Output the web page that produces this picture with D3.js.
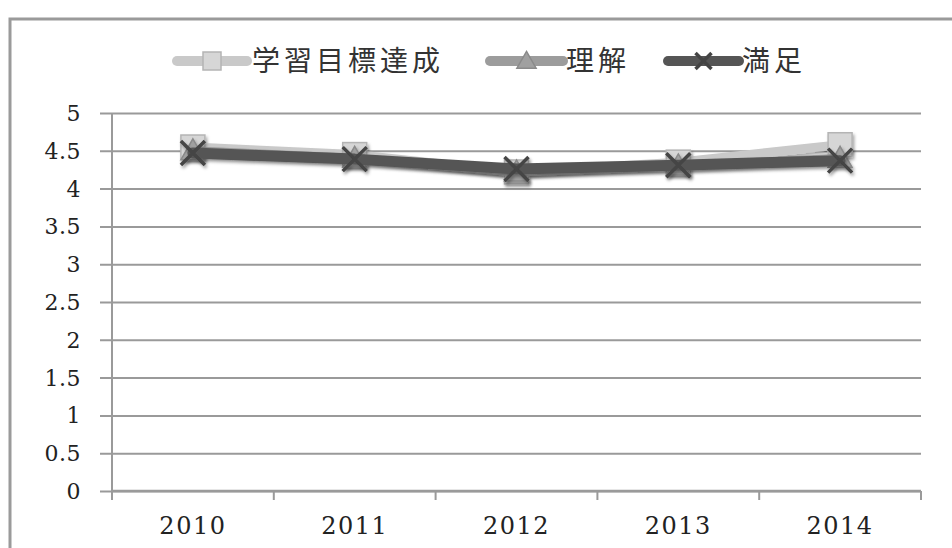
<!DOCTYPE html>
<html>
<head>
<meta charset="utf-8">
<script src="https://cdn.jsdelivr.net/npm/d3@7"></script>
<style>
  html, body { margin: 0; padding: 0; background: #fff; }
  svg { display: block; }
</style>
</head>
<body>
<svg id="chart" width="952" height="548"></svg>
<script>
// Survey averages per year
const years = ["2010", "2011", "2012", "2013", "2014"];
const goalValues = [4.55, 4.45, 4.22, 4.35, 4.58];   // 学習目標達成
const understandValues = [4.50, 4.40, 4.22, 4.30, 4.40]; // 理解
const satisfyValues = [4.47, 4.39, 4.26, 4.31, 4.37];  // 満足
const seriesNames = ["学習目標達成", "理解", "満足"];
const yTicks = [0, 0.5, 1, 1.5, 2, 2.5, 3, 3.5, 4, 4.5, 5];

const series = [
  { name: seriesNames[0], values: goalValues, color: "#c9c9c9", markerFill: "#d6d6d6", markerStroke: "#b4b4b4", marker: "square" },
  { name: seriesNames[1], values: understandValues, color: "#9c9c9c", markerFill: "#a0a0a0", markerStroke: "#8a8a8a", marker: "triangle" },
  { name: seriesNames[2], values: satisfyValues, color: "#555555", markerFill: "#444", markerStroke: "#3a3a3a", marker: "cross" }
];

const svg = d3.select("#chart");
const W = 952, H = 548;
const plot = { left: 112, right: 921, top: 113, bottom: 491 };

const defs = svg.append("defs");
const shadow = defs.append("filter").attr("id", "shadow")
  .attr("x", "-20%").attr("y", "-50%").attr("width", "140%").attr("height", "200%");
shadow.append("feDropShadow").attr("dx", 1.5).attr("dy", 2.5).attr("stdDeviation", 1.8)
  .attr("flood-color", "#000").attr("flood-opacity", 0.35);

// Outer frame
svg.append("rect").attr("x", 10).attr("y", 19).attr("width", W).attr("height", H)
  .attr("fill", "#fff").attr("stroke", "#9a9a9a").attr("stroke-width", 3);

const x = d3.scaleBand().domain(years).range([plot.left, plot.right]);
const y = d3.scaleLinear().domain([0, 5]).range([plot.bottom, plot.top]);

// Horizontal gridlines with ticks on the left
svg.append("g")
  .attr("transform", `translate(${plot.left},0)`)
  .call(d3.axisLeft(y).tickValues(yTicks).tickSize(-(plot.right - plot.left)).tickFormat(""))
  .call(g => g.select(".domain").remove())
  .call(g => g.selectAll(".tick line").attr("stroke", "#9a9a9a").attr("stroke-width", 2)
    .attr("x1", -12));

// Y tick labels
svg.append("g").selectAll("text").data(yTicks).join("text")
  .attr("x", 81).attr("y", d => y(d)).attr("dy", "0.36em")
  .attr("text-anchor", "end")
  .attr("font-family", "DejaVu Serif, serif").attr("font-size", 22)
  .attr("letter-spacing", 0.5)
  .attr("fill", "#222")
  .text(d => d);

// Y axis line
svg.append("line").attr("x1", plot.left).attr("x2", plot.left)
  .attr("y1", plot.top).attr("y2", plot.bottom)
  .attr("stroke", "#9a9a9a").attr("stroke-width", 2);

// X axis with category boundary ticks
const xAxis = svg.append("g");
xAxis.append("line").attr("x1", plot.left).attr("x2", plot.right)
  .attr("y1", plot.bottom).attr("y2", plot.bottom)
  .attr("stroke", "#9a9a9a").attr("stroke-width", 2.5);
const boundaries = years.map(yr => x(yr)).concat([x(years[years.length - 1]) + x.bandwidth()]);
xAxis.selectAll("line.b").data(boundaries).join("line").attr("class", "b")
  .attr("x1", d => d).attr("x2", d => d)
  .attr("y1", plot.bottom).attr("y2", plot.bottom + 9)
  .attr("stroke", "#9a9a9a").attr("stroke-width", 2);
xAxis.selectAll("text").data(years).join("text")
  .attr("x", d => x(d) + x.bandwidth() / 2).attr("y", 534)
  .attr("text-anchor", "middle")
  .attr("font-family", "DejaVu Serif, serif").attr("font-size", 24)
  .attr("letter-spacing", 1.5)
  .attr("fill", "#222")
  .text(d => d);

// Marker drawing helper
function drawMarker(g, type, cx, cy, s) {
  if (type === "square") {
    g.append("rect").attr("x", cx - s.size / 2).attr("y", cy - s.size / 2)
      .attr("width", s.size).attr("height", s.size)
      .attr("fill", s.markerFill).attr("stroke", s.markerStroke).attr("stroke-width", 1.5);
  } else if (type === "triangle") {
    const h = s.size;
    g.append("path")
      .attr("d", `M${cx},${cy - h * 0.6}L${cx + h * 0.6},${cy + h * 0.45}L${cx - h * 0.6},${cy + h * 0.45}Z`)
      .attr("fill", s.markerFill).attr("stroke", s.markerStroke).attr("stroke-width", 1.5);
  } else {
    const r = s.size / 2;
    g.append("path")
      .attr("d", `M${cx - r},${cy - r}L${cx + r},${cy + r}M${cx - r},${cy + r}L${cx + r},${cy - r}`)
      .attr("stroke", s.markerFill).attr("stroke-width", 3.5).attr("fill", "none");
  }
}

const sizes = { square: 24, triangle: 20, cross: 24 };

// Series lines and markers
const line = d3.line().x((d, i) => x(years[i]) + x.bandwidth() / 2).y(d => y(d));
series.forEach(s => {
  const g = svg.append("g").attr("filter", "url(#shadow)");
  g.append("path").datum(s.values).attr("d", line)
    .attr("fill", "none").attr("stroke", s.color)
    .attr("stroke-width", s.marker === "cross" ? 11 : 9)
    .attr("stroke-linejoin", "round").attr("stroke-linecap", "round");
  const st = Object.assign({ size: sizes[s.marker] }, s);
  s.values.forEach((v, i) => drawMarker(g, s.marker, x(years[i]) + x.bandwidth() / 2, y(v), st));
});

// Legend
const legendItems = [
  { s: series[0], x0: 177, x1: 247, tx: 252 },
  { s: series[1], x0: 490, x1: 563, tx: 566 },
  { s: series[2], x0: 668, x1: 739, tx: 742 }
];
const ly = 61;
legendItems.forEach(it => {
  const g = svg.append("g");
  g.append("line").attr("x1", it.x0).attr("x2", it.x1).attr("y1", ly).attr("y2", ly)
    .attr("stroke", it.s.color).attr("stroke-width", 10).attr("stroke-linecap", "round");
  const st = Object.assign({ size: it.s.marker === "square" ? 18 : 16 }, it.s);
  drawMarker(g, it.s.marker, (it.x0 + it.x1) / 2, ly, st);
  g.append("text").attr("x", it.tx).attr("y", ly).attr("dy", "0.36em")
    .attr("font-family", "Noto Sans CJK JP, sans-serif").attr("font-size", 28)
    .attr("letter-spacing", 4).attr("fill", "#333")
    .text(it.s.name);
});
</script>
</body>
</html>
